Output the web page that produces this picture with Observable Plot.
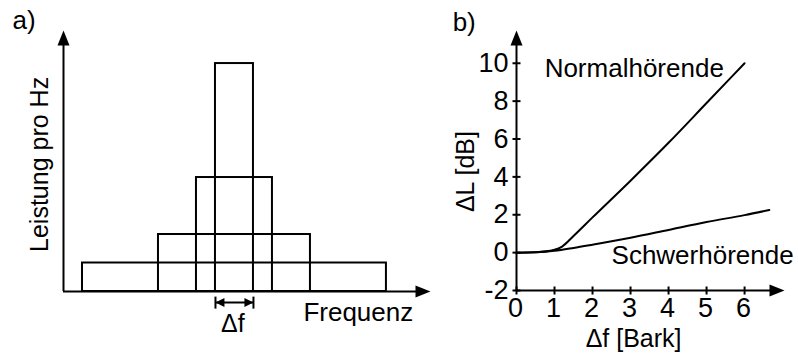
<!DOCTYPE html>
<html>
<head>
<meta charset="utf-8">
<script src="https://cdn.jsdelivr.net/npm/d3@7"></script>
<script src="https://cdn.jsdelivr.net/npm/@observablehq/plot@0.6"></script>
<style>
  html, body { margin: 0; padding: 0; background: #fff; }
  #wrap { position: relative; width: 798px; height: 353px; overflow: hidden; }
  #wrap > div { position: absolute; top: 0; }
  #pa { left: 0; }
  #pb { left: 440px; }
</style>
</head>
<body>
<div id="wrap"><div id="pa"></div><div id="pb"></div></div>
<script>
// ---------- Data: panel a (equal-power noise bands) ----------
const bandWidths = [1, 2, 4, 8];        // relative bandwidth
const bandPower  = [8, 4, 2, 1];        // power per Hz
const bandCenter = 4.5;                 // centre frequency (relative units)
const deltaFBand = [4, 5];              // Δf marker spans the narrowest band

// ---------- Data: panel b (ΔL vs Δf) ----------
const normalX = [0, 0.5, 1, 1.2, 1.5, 2, 3, 4, 5, 6];
const normalY = [0, 0.02, 0.15, 0.32, 0.88, 1.86, 3.8, 5.8, 7.9, 10];
const schwerX = [0, 0.5, 1, 1.5, 2, 3, 4, 5, 6, 6.65];
const schwerY = [0, 0.02, 0.1, 0.25, 0.42, 0.78, 1.2, 1.62, 1.98, 2.25];
const xTicksB = [0, 1, 2, 3, 4, 5, 6];
const yTicksB = [-2, 0, 2, 4, 6, 8, 10];

// ---------- Styling ----------
const FONT = "Liberation Sans, Arial, sans-serif";
const LW = 2;

// custom symbols (pixel-sized glyphs)
const arrowRight = { draw(c) { c.moveTo(0, 0); c.lineTo(-15, -6); c.lineTo(-15, 6); c.closePath(); } };
const arrowUp    = { draw(c) { c.moveTo(0, 0); c.lineTo(-6, 15); c.lineTo(6, 15); c.closePath(); } };
const smallRight = { draw(c) { c.moveTo(0, 0); c.lineTo(-9, -4.5); c.lineTo(-9, 4.5); c.closePath(); } };
const smallLeft  = { draw(c) { c.moveTo(0, 0); c.lineTo(9, -4.5); c.lineTo(9, 4.5); c.closePath(); } };
const vTick      = { draw(c) { c.moveTo(0, -4); c.lineTo(0, 4); } };
const hTick      = { draw(c) { c.moveTo(-4, 0); c.lineTo(4, 0); } };
const vBar       = { draw(c) { c.moveTo(0, -6); c.lineTo(0, 6); } };

// ---------- Panel a ----------
const xMaxA = 9.66, yMaxA = 9.16;
const bands = bandWidths.map((w, i) => ({w, p: bandPower[i]}));
const dfY = -0.39;

const plotA = Plot.plot({
  width: 440, height: 353,
  marginLeft: 63, marginRight: 10, marginTop: 30, marginBottom: 62,
  x: {domain: [0, xMaxA], axis: null},
  y: {domain: [0, yMaxA], axis: null},
  style: {fontFamily: FONT, background: "white", color: "black"},
  marks: [
    Plot.rect(bands, {x1: d => bandCenter - d.w / 2, x2: d => bandCenter + d.w / 2, y1: 0, y2: d => d.p,
      fill: "none", stroke: "black", strokeWidth: LW}),
    Plot.ruleX([0], {y1: 0, y2: yMaxA - 0.3, stroke: "black", strokeWidth: LW}),
    Plot.ruleY([0], {x1: 0, x2: xMaxA - 0.3, stroke: "black", strokeWidth: LW}),
    Plot.dot([{x: 0, y: yMaxA}], {x: "x", y: "y", symbol: arrowUp, fill: "black", stroke: "none"}),
    Plot.dot([{x: xMaxA, y: 0}], {x: "x", y: "y", symbol: arrowRight, fill: "black", stroke: "none"}),
    // Δf marker
    Plot.ruleY([dfY], {x1: deltaFBand[0], x2: deltaFBand[1], stroke: "black", strokeWidth: LW}),
    Plot.dot(deltaFBand, {x: d => d, y: dfY, symbol: vBar, stroke: "black", fill: "none", strokeWidth: LW}),
    Plot.dot([deltaFBand[1]], {x: d => d, y: dfY, symbol: smallRight, fill: "black", stroke: "none"}),
    Plot.dot([deltaFBand[0]], {x: d => d, y: dfY, symbol: smallLeft, fill: "black", stroke: "none"}),
    Plot.text(["Δf"], {x: (deltaFBand[0] + deltaFBand[1]) / 2 - 0.04, y: -1.15, text: d => d, fontSize: 25, fill: "black"}),
    Plot.text(["Frequenz"], {x: 7.76, y: -0.73, text: d => d, fontSize: 26, fill: "black"}),
    Plot.text(["Leistung pro Hz"], {x: -0.62, y: 4.46, text: d => d, rotate: -90, fontSize: 25, fill: "black"}),
    Plot.text(["a)"], {x: -1.34, y: 9.5, text: d => d, textAnchor: "start", fontSize: 26, fill: "black"})
  ]
});
document.getElementById("pa").appendChild(plotA);

// ---------- Panel b ----------
const xMaxB = 7.05, yMaxB = 11.73;
const normal = normalX.map((x, i) => ({x, y: normalY[i]}));
const schwer = schwerX.map((x, i) => ({x, y: schwerY[i]}));

const plotB = Plot.plot({
  width: 358, height: 353,
  marginLeft: 76, marginRight: 14, marginTop: 30, marginBottom: 63,
  x: {domain: [0, xMaxB], axis: null},
  y: {domain: [-2, yMaxB], axis: null},
  style: {fontFamily: FONT, background: "white", color: "black"},
  marks: [
    Plot.ruleX([0], {y1: -2, y2: yMaxB - 0.5, stroke: "black", strokeWidth: LW}),
    Plot.ruleY([-2], {x1: 0, x2: xMaxB - 0.3, stroke: "black", strokeWidth: LW}),
    Plot.dot([{x: 0, y: yMaxB}], {x: "x", y: "y", symbol: arrowUp, fill: "black", stroke: "none"}),
    Plot.dot([{x: xMaxB, y: -2}], {x: "x", y: "y", symbol: arrowRight, fill: "black", stroke: "none"}),
    Plot.dot(xTicksB, {x: d => d, y: -2, symbol: vTick, stroke: "black", fill: "none", strokeWidth: LW}),
    Plot.dot(yTicksB, {x: 0, y: d => d, symbol: hTick, stroke: "black", fill: "none", strokeWidth: LW}),
    Plot.text(xTicksB, {x: d => d, y: -2, dy: 18, dx: -1, text: d => String(d), fontSize: 27, fill: "black"}),
    Plot.text(yTicksB, {x: 0, y: d => d, dx: -8, textAnchor: "end", text: d => String(d), fontSize: 27, fill: "black"}),
    Plot.line(normal, {x: "x", y: "y", curve: "monotone-x", stroke: "black", strokeWidth: LW}),
    Plot.line(schwer, {x: "x", y: "y", curve: "monotone-x", stroke: "black", strokeWidth: LW}),
    Plot.text(["Normalhörende"], {x: 0.74, y: 9.74, text: d => d, textAnchor: "start", fontSize: 26, fill: "black"}),
    Plot.text(["Schwerhörende"], {x: 2.5, y: -0.14, text: d => d, textAnchor: "start", fontSize: 26, fill: "black"}),
    Plot.text(["ΔL [dB]"], {x: -1.34, y: 4.28, text: d => d, rotate: -90, fontSize: 25, fill: "black"}),
    Plot.text(["Δf [Bark]"], {x: 3.08, y: -4.56, text: d => d, fontSize: 25, fill: "black"}),
    Plot.text(["b)"], {x: -1.68, y: 12.15, text: d => d, textAnchor: "start", fontSize: 26, fill: "black"})
  ]
});
document.getElementById("pb").appendChild(plotB);
</script>
</body>
</html>
